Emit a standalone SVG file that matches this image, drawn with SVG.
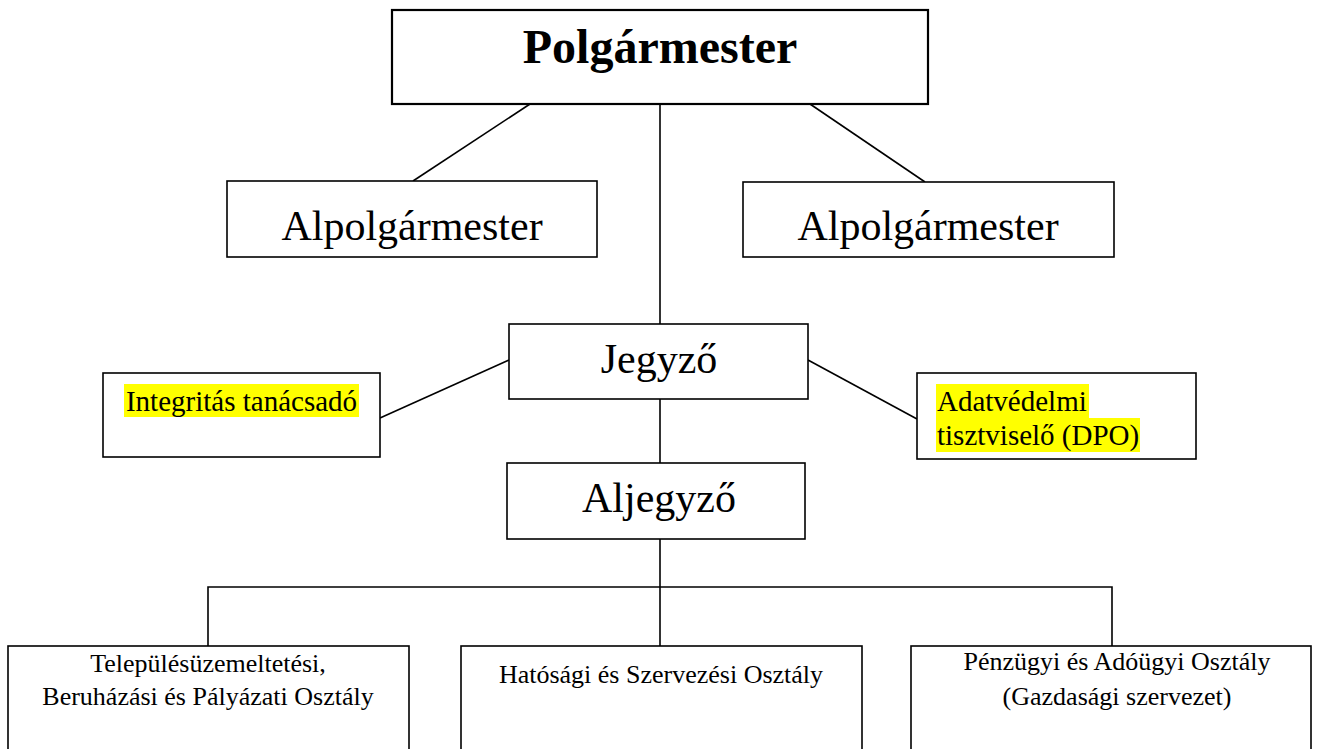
<svg xmlns="http://www.w3.org/2000/svg" width="1319" height="749" viewBox="0 0 1319 749">
<style>
.box{fill:#fff;stroke:#000;stroke-width:1.6}
.top{fill:#fff;stroke:#000;stroke-width:2.2}
.ln{stroke:#000;stroke-width:1.6;fill:none}
text{font-family:"Liberation Serif","Times New Roman",serif;fill:#000;text-anchor:middle}
.big{font-size:42px}
.mid{font-size:29px}
.sm{font-size:26px}
.hl{fill:#ffff00}
</style>
<rect width="1319" height="749" fill="#fff"/>
<g id="connectors">
<line class="ln" x1="530" y1="104" x2="413" y2="181"/>
<line class="ln" x1="810" y1="104" x2="925" y2="182"/>
<line class="ln" x1="660" y1="104" x2="660" y2="324"/>
<line class="ln" x1="509" y1="360" x2="380" y2="418"/>
<line class="ln" x1="808" y1="360" x2="917" y2="419"/>
<line class="ln" x1="660" y1="399" x2="660" y2="463"/>
<line class="ln" x1="660" y1="539" x2="660" y2="587"/>
<polyline class="ln" points="208,646 208,587 1112,587 1112,646"/>
<line class="ln" x1="660" y1="587" x2="660" y2="646"/>
</g>
<g id="polgarmester">
<rect class="top" x="392" y="10" width="536" height="94"/>
<text x="660" y="63" style="font-size:48px;font-weight:bold">Polgármester</text>
</g>
<g id="alpolgarmester1">
<rect class="box" x="227" y="181" width="370" height="76"/>
<text class="big" x="412" y="240">Alpolgármester</text>
</g>
<g id="alpolgarmester2">
<rect class="box" x="743" y="182" width="371" height="75"/>
<text class="big" x="928" y="240">Alpolgármester</text>
</g>
<g id="jegyzo">
<rect class="box" x="509" y="324" width="299" height="75"/>
<text class="big" x="659" y="373">Jegyző</text>
</g>
<g id="integritas">
<rect class="box" x="103" y="373" width="277" height="84"/>
<rect class="hl" x="124" y="384" width="235" height="33"/>
<text class="mid" x="241.5" y="411">Integritás tanácsadó</text>
</g>
<g id="dpo">
<rect class="box" x="917" y="373" width="279" height="86"/>
<rect class="hl" x="936" y="384" width="153" height="34"/>
<rect class="hl" x="936" y="418" width="204" height="34"/>
<text class="mid" x="937" y="411" style="text-anchor:start">Adatvédelmi</text>
<text class="mid" x="937" y="445" style="text-anchor:start">tisztviselő (DPO)</text>
</g>
<g id="aljegyzo">
<rect class="box" x="507" y="463" width="298" height="76"/>
<text class="big" x="659" y="512">Aljegyző</text>
</g>
<g id="osztaly1">
<rect class="box" x="8" y="646" width="401" height="120"/>
<text class="sm" x="208" y="672">Településüzemeltetési,</text>
<text class="sm" x="208" y="705">Beruházási és Pályázati Osztály</text>
</g>
<g id="osztaly2">
<rect class="box" x="461" y="646" width="401" height="120"/>
<text class="sm" x="661" y="683">Hatósági és Szervezési Osztály</text>
</g>
<g id="osztaly3">
<rect class="box" x="911" y="646" width="400" height="120"/>
<text class="sm" x="1117" y="670">Pénzügyi és Adóügyi Osztály</text>
<text class="sm" x="1117" y="705">(Gazdasági szervezet)</text>
</g>
</svg>
